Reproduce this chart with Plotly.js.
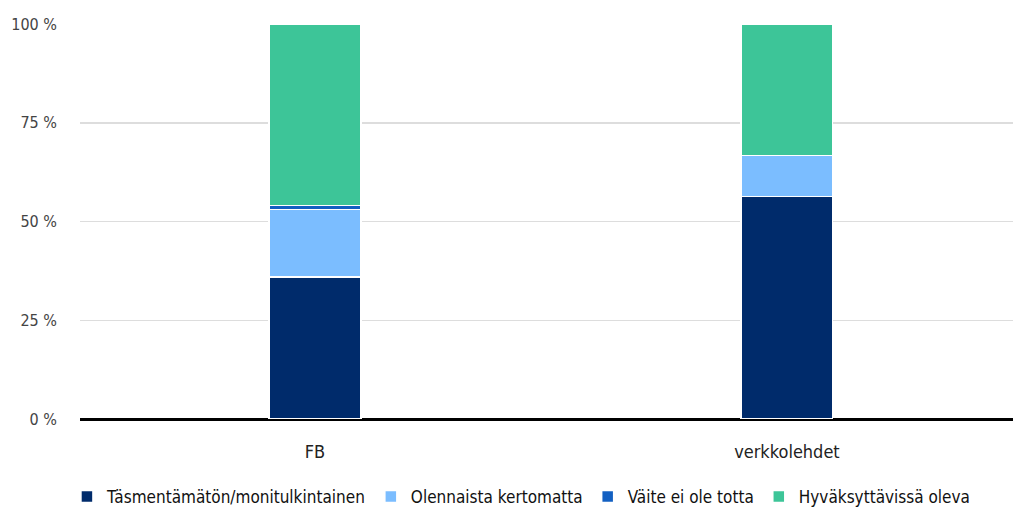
<!DOCTYPE html>
<html>
<head>
<meta charset="utf-8">
<script src="https://cdn.plot.ly/plotly-3.0.1.min.js"></script>
<style>html,body{margin:0;padding:0;background:#fff;}#chart{width:1013px;height:512px;}
#chart svg text{font-stretch:condensed !important;}</style>
</head>
<body>
<div id="chart"></div>
<script>
const categories = ["FB", "verkkolehdet"];
const seriesNames = ["Täsmentämätön/monitulkintainen", "Olennaista kertomatta", "Väite ei ole totta", "Hyväksyttävissä oleva"];
const tasmentamaton = [36, 56.3];
const olennaista = [17, 10.4];
const vaite = [1, 0];
const hyvaksyttava = [46, 33.3];
const yTicks = [0, 25, 50, 75, 100];

const colors = ["#002B6B", "#7BBDFF", "#1360C2", "#3DC598"];
const values = [tasmentamaton, olennaista, vaite, hyvaksyttava];
const FONT = '"DejaVu Sans Condensed", "DejaVu Sans", sans-serif';

const traces = seriesNames.map((name, i) => ({
  type: "bar",
  name: name,
  x: categories,
  y: values[i],
  marker: {color: colors[i], line: {color: "#ffffff", width: 1.5}},
  hoverinfo: "skip"
}));

const layout = {
  width: 1013, height: 512,
  margin: {l: 80, r: 0, t: 24, b: 93, autoexpand: false},
  barmode: "stack",
  bargap: 0.806,
  showlegend: true,
  paper_bgcolor: "#ffffff",
  plot_bgcolor: "#ffffff",
  font: {family: FONT, size: 16, color: "#444444"},
  xaxis: {
    range: [-0.498, 1.479],
    showgrid: false, zeroline: false, showline: false,
    ticks: "", tickfont: {family: FONT, size: 18, color: "#222222"},
    ticklabelstandoff: 20
  },
  yaxis: {
    range: [0, 100],
    tickvals: yTicks,
    ticktext: yTicks.map(v => v + " %"),
    showgrid: true, gridcolor: "#dddddd", gridwidth: 1.5,
    zeroline: true, zerolinecolor: "#000000", zerolinewidth: 3,
    showline: false, ticks: "",
    ticklabelstandoff: 22,
    tickfont: {family: FONT, size: 16, color: "#444444"}
  },
  legend: {
    orientation: "h", x: -0.014, xanchor: "left", y: -0.152, yanchor: "top",
    font: {family: FONT, size: 17, color: "#111111"},
    traceorder: "normal", itemwidth: 30, tracegroupgap: 0
  }
};

Plotly.newPlot("chart", traces, layout, {displayModeBar: false, staticPlot: true});
</script>
</body>
</html>
